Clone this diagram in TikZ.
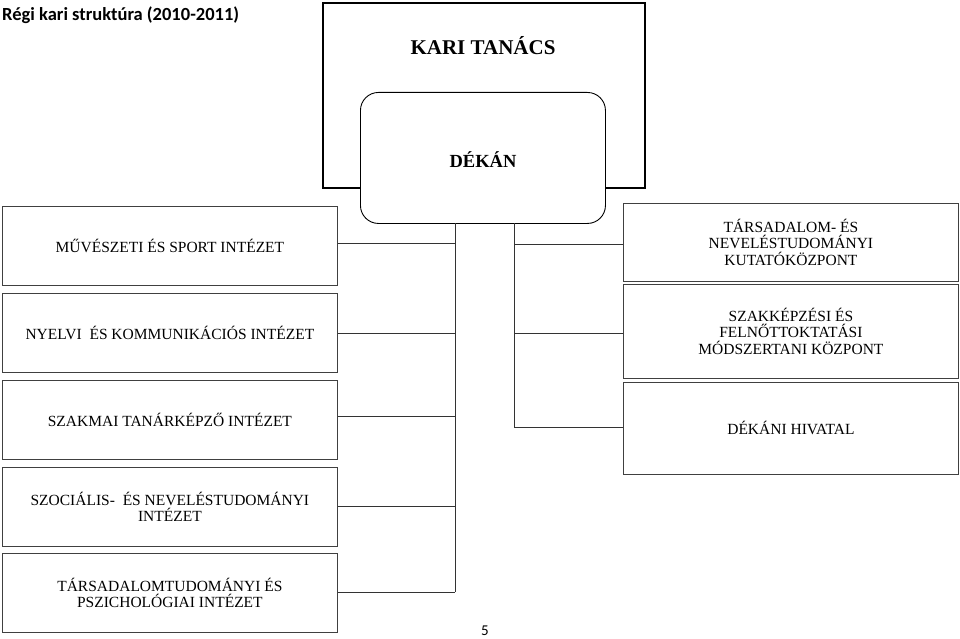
\documentclass[tikz,border=0pt]{standalone}
\usepackage{fontspec}
\setmainfont{Liberation Serif}
\newfontfamily\calfont{Carlito}
\begin{document}
\begin{tikzpicture}[x=1pt,y=-1pt,
 box/.style={draw=black!75,line width=0.8pt,align=center,font=\fontsize{15.5}{16.5}\selectfont,inner sep=0pt},
 conn/.style={draw=black!80,line width=0.8pt}]
\useasboundingbox (0,0) rectangle (960,639);
\node[font=\calfont\bfseries\fontsize{18.5}{20}\selectfont,anchor=west,inner sep=0pt] (title) at (2,15) {Régi kari struktúra (2010-2011)};
\node[draw,line width=2pt,minimum width=322pt,minimum height=185pt,anchor=north west,inner sep=0pt] (kt) at (322,2) {};
\node[font=\bfseries\fontsize{21}{24}\selectfont] (ktl) at (483,46) {KARI TANÁCS};
\node[draw,line width=0.9pt,fill=white,rounded corners=18pt,minimum width=245pt,minimum height=131pt,anchor=north west,inner sep=0pt] (dk) at (360,92) {};
\node[font=\bfseries\fontsize{18.5}{20}\selectfont] (dkl) at (483,160) {DÉKÁN};
% left boxes
\foreach \n/\y/\t in {l1/206/{MŰVÉSZETI ÉS SPORT INTÉZET},l2/293/{NYELVI\ \ ÉS KOMMUNIKÁCIÓS INTÉZET},l3/380/{SZAKMAI TANÁRKÉPZŐ INTÉZET},l4/467/{SZOCIÁLIS-\ \ ÉS NEVELÉSTUDOMÁNYI\\INTÉZET},l5/553/{TÁRSADALOMTUDOMÁNYI ÉS\\PSZICHOLÓGIAI INTÉZET}}
  \node[box,minimum width=335pt,minimum height=79pt,anchor=north west] (\n) at (2,\y) {\t};
\node[box,minimum width=335pt,minimum height=78pt,anchor=north west] (r1) at (623,203) {TÁRSADALOM- ÉS\\NEVELÉSTUDOMÁNYI\\KUTATÓKÖZPONT};
\node[box,minimum width=335pt,minimum height=94pt,anchor=north west] (r2) at (623,284) {SZAKKÉPZÉSI ÉS\\FELNŐTTOKTATÁSI\\MÓDSZERTANI KÖZPONT};
\node[box,minimum width=335pt,minimum height=92pt,anchor=north west] (r3) at (623,382) {DÉKÁNI HIVATAL};
% connectors
\coordinate (lt) at (455,223); \coordinate (lb) at (455,592);
\coordinate (rt) at (514,223); \coordinate (rb) at (514,427);
\draw[conn] (lt) -- (lb);
\draw[conn] (rt) -- (rb);
\draw[conn] (455,243) -- (l1.east |- 0,243);
\draw[conn] (455,333) -- (l2.east |- 0,333);
\draw[conn] (455,416) -- (l3.east |- 0,416);
\draw[conn] (455,506) -- (l4.east |- 0,506);
\draw[conn] (lb) -- (l5.east |- lb);
\draw[conn] (514,244) -- (r1.west |- 0,244);
\draw[conn] (514,333) -- (r2.west |- 0,333);
\draw[conn] (rb) -- (r3.west |- rb);
\node[font=\calfont\fontsize{15}{16}\selectfont,inner sep=0pt] (pg) at (485,631) {5};
\end{tikzpicture}
\end{document}
